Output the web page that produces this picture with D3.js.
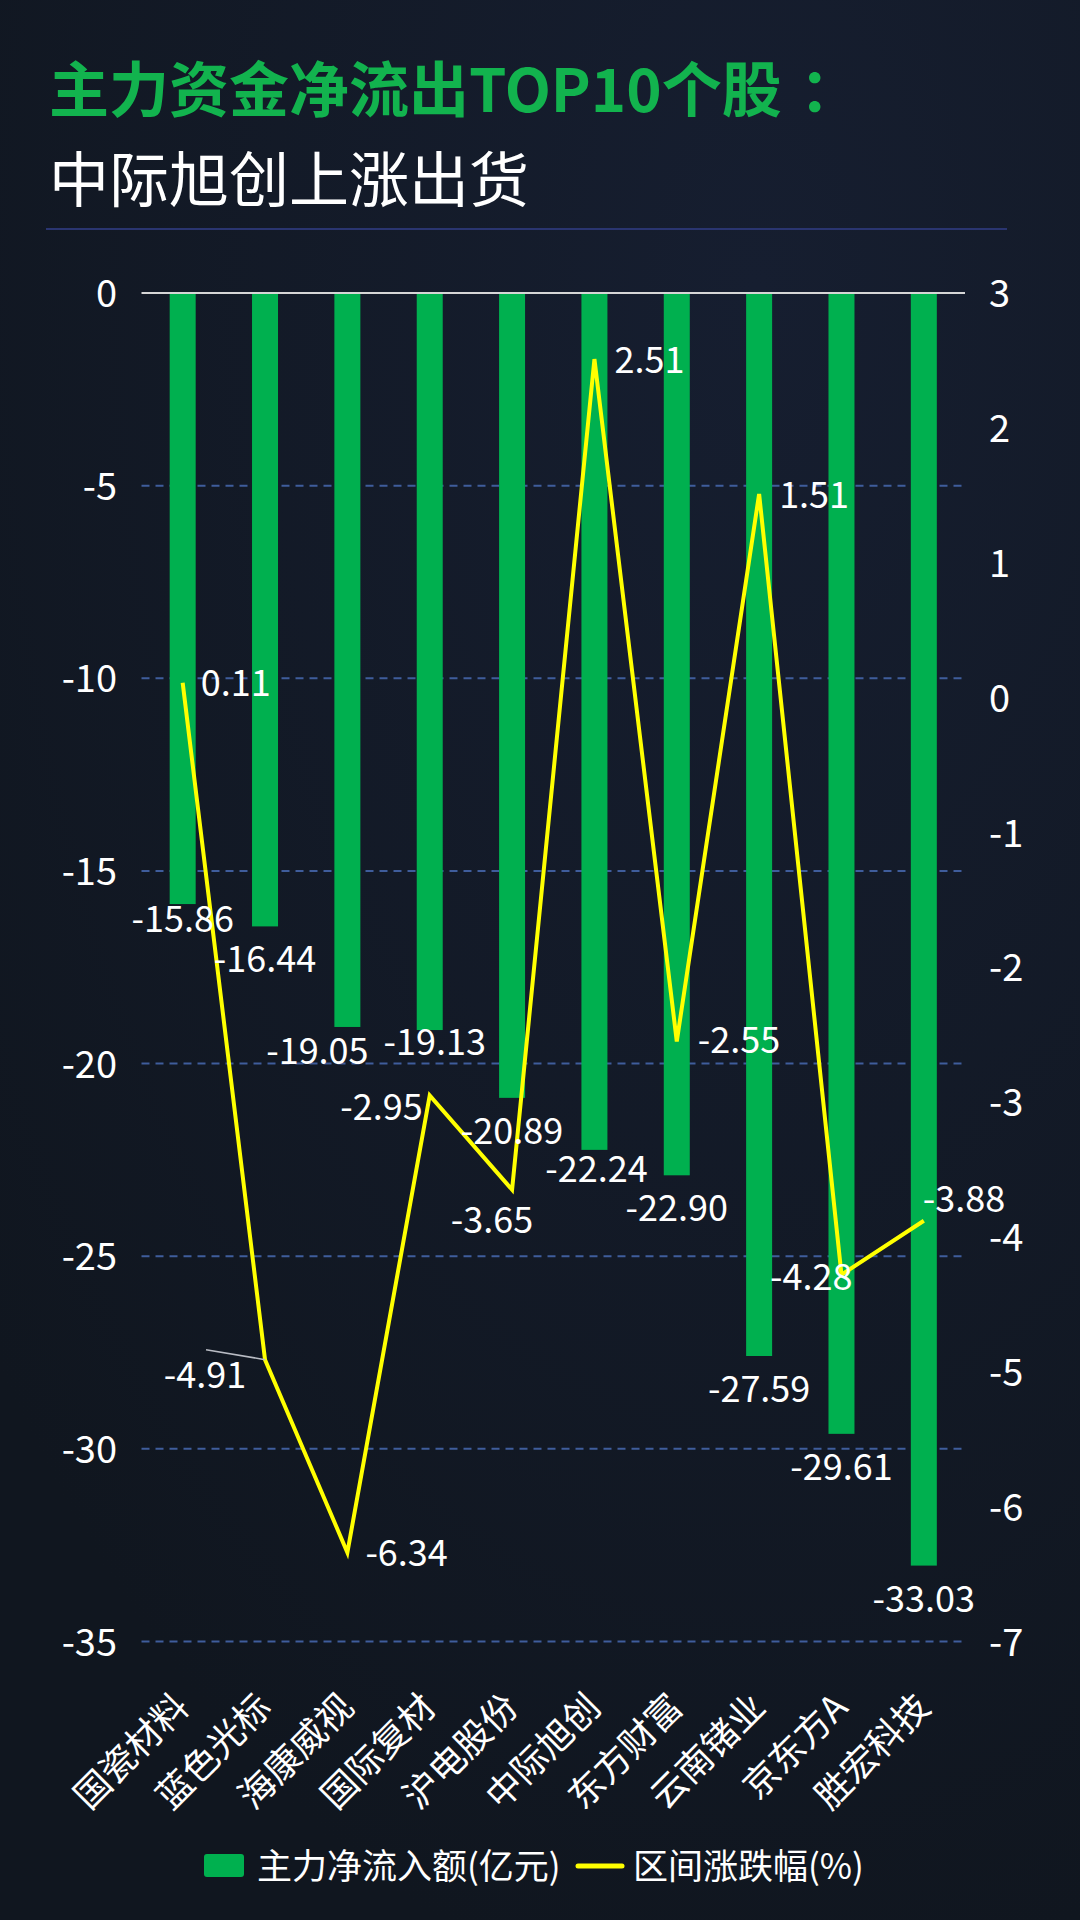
<!DOCTYPE html>
<html>
<head>
<meta charset="utf-8">
<script src="https://cdn.jsdelivr.net/npm/d3@7/dist/d3.min.js"></script>
<style>
  html, body { margin: 0; padding: 0; background: #121828; }
  svg { display: block; }
  text { font-family: "Noto Sans CJK SC", "Noto Sans", sans-serif; }
</style>
</head>
<body>
<svg id="chart" width="1080" height="1920"></svg>
<script>
// ---------- data ----------
const categories = ["国瓷材料","蓝色光标","海康威视","国际复材","沪电股份","中际旭创","东方财富","云南锗业","京东方A","胜宏科技"];
const netInflow  = [-15.86, -16.44, -19.05, -19.13, -20.89, -22.24, -22.90, -27.59, -29.61, -33.03];
const changePct  = [0.11, -4.91, -6.34, -2.95, -3.65, 2.51, -2.55, 1.51, -4.28, -3.88];
const leftTicks  = [0, -5, -10, -15, -20, -25, -30, -35];
const rightTicks = [3, 2, 1, 0, -1, -2, -3, -4, -5, -6, -7];
const titleMain  = "主力资金净流出TOP10个股";
const titleColon = "：";
const titleLine2 = "中际旭创上涨出货";
const legendBar  = "主力净流入额(亿元)";
const legendLine = "区间涨跌幅(%)";

// ---------- label layout (overlap adjustments, px) ----------
const barLabelShift = [[0,-18],[0,0],[-30,-9],[5,-21],[0,0],[2,-14],[0,0],[0,0],[0,0],[0,0]];
const lineLabelLayout = [
  ["start", 18, 13], ["middle", -60, 28], ["start", 18, 14], ["end", -7, 25], ["middle", -20, 43],
  ["start", 20, 14], ["start", 21, 12], ["start", 20, 14], ["end", 11, 15], ["start", -1, -9]
];

// ---------- colours ----------
const GREEN = "#00b04f", YELLOW = "#ffff00", TITLE_GREEN = "#12b34e";
const fmt = v => String(v);

const svg = d3.select("#chart");

// background
const defs = svg.append("defs");
const bg = defs.append("radialGradient").attr("id","bg").attr("cx","70%").attr("cy","15%").attr("r","90%");
bg.append("stop").attr("offset","0%").attr("stop-color","#161e30");
bg.append("stop").attr("offset","100%").attr("stop-color","#10161f");
svg.append("rect").attr("width",1080).attr("height",1920).attr("fill","url(#bg)");

// title
const t1 = svg.append("text").attr("x",49).attr("y",112).attr("font-size",60).attr("font-weight","bold")
  .attr("fill",TITLE_GREEN);
t1.append("tspan").text(titleMain);
t1.append("tspan").attr("dx",18).text(titleColon);
svg.append("text").attr("x",49).attr("y",202).attr("font-size",60)
  .attr("fill","#ffffff").text(titleLine2);
svg.append("line").attr("x1",46).attr("x2",1007).attr("y1",229).attr("y2",229)
  .attr("stroke","#2a3570").attr("stroke-width",2);

// scales
const x = d3.scaleBand().domain(categories).range([141.5, 965]).padding(0);
const yL = d3.scaleLinear().domain([-35, 0]).range([1641.5, 293]);
const yR = d3.scaleLinear().domain([-7, 3]).range([1641.5, 293]);
const cx = d => x(d) + x.bandwidth() / 2;
const barW = 26;

// grid lines
svg.append("g").selectAll("line").data(leftTicks.filter(t => t !== 0)).join("line")
  .attr("x1", 141.5).attr("x2", 965).attr("y1", d => yL(d)).attr("y2", d => yL(d))
  .attr("stroke", "#3f5d9c").attr("stroke-width", 2).attr("stroke-dasharray", "8,6");

// left axis
const leftAxis = d3.axisLeft(yL).tickValues(leftTicks).tickFormat(fmt).tickSize(0).tickPadding(0);
const gL = svg.append("g").attr("transform","translate(117,0)").call(leftAxis);
gL.select(".domain").remove();
gL.selectAll("text").attr("font-size",38).attr("fill","#ffffff").attr("dy","0.36em")
  .style("font-family", '"Noto Sans CJK SC", sans-serif');

// right axis
const rightAxis = d3.axisRight(yR).tickValues(rightTicks).tickFormat(fmt).tickSize(0).tickPadding(0);
const gR = svg.append("g").attr("transform","translate(989,0)").call(rightAxis);
gR.select(".domain").remove();
gR.selectAll("text").attr("font-size",38).attr("fill","#ffffff").attr("dy","0.36em")
  .style("font-family", '"Noto Sans CJK SC", sans-serif');

// bars
svg.append("g").selectAll("rect").data(categories).join("rect")
  .attr("x", d => cx(d) - barW / 2)
  .attr("width", barW)
  .attr("y", yL(0))
  .attr("height", (d, i) => yL(netInflow[i]) - yL(0))
  .attr("fill", GREEN);

// zero line
svg.append("line").attr("x1",141.5).attr("x2",965).attr("y1",yL(0)).attr("y2",yL(0))
  .attr("stroke","#d6d6d6").attr("stroke-width",2);

// x axis labels (rotated)
svg.append("g").selectAll("text").data(categories).join("text")
  .attr("transform", d => `translate(${cx(d) - 3},1698) rotate(-45)`)
  .attr("text-anchor","end").attr("dominant-baseline","central")
  .attr("font-size",36).attr("fill","#ffffff").text(d => d);

// line
const line = d3.line().x((d, i) => cx(categories[i])).y(d => yR(d));
svg.append("path").datum(changePct).attr("d", line)
  .attr("fill","none").attr("stroke",YELLOW).attr("stroke-width",4).attr("stroke-linejoin","miter");

// leader line for label 2 of line series
{
  const i = 1, px = cx(categories[i]), py = yR(changePct[i]);
  svg.append("line").attr("x1",px).attr("y1",py).attr("x2",px-59).attr("y2",py-10)
    .attr("stroke","#b9bcc4").attr("stroke-width",1.5);
}

// bar labels
svg.append("g").selectAll("text").data(categories).join("text")
  .attr("x", (d, i) => cx(d) + barLabelShift[i][0])
  .attr("y", (d, i) => yL(netInflow[i]) + 46 + barLabelShift[i][1])
  .attr("text-anchor","middle").attr("font-size",36).attr("fill","#ffffff")
  .text((d, i) => netInflow[i].toFixed(2));

// line labels
svg.append("g").selectAll("text").data(categories).join("text")
  .attr("x", (d, i) => cx(d) + lineLabelLayout[i][1])
  .attr("y", (d, i) => yR(changePct[i]) + lineLabelLayout[i][2])
  .attr("text-anchor", (d, i) => lineLabelLayout[i][0])
  .attr("font-size",36).attr("fill","#ffffff")
  .text((d, i) => changePct[i].toFixed(2));

// legend
svg.append("rect").attr("x",204).attr("y",1854).attr("width",40).attr("height",23).attr("rx",3).attr("fill",GREEN);
svg.append("text").attr("x",257).attr("y",1879).attr("font-size",35).attr("fill","#ffffff").text(legendBar);
svg.append("line").attr("x1",578).attr("x2",622).attr("y1",1866).attr("y2",1866)
  .attr("stroke",YELLOW).attr("stroke-width",5).attr("stroke-linecap","round");
svg.append("text").attr("x",633).attr("y",1879).attr("font-size",35).attr("fill","#ffffff").text(legendLine);
</script>
</body>
</html>
